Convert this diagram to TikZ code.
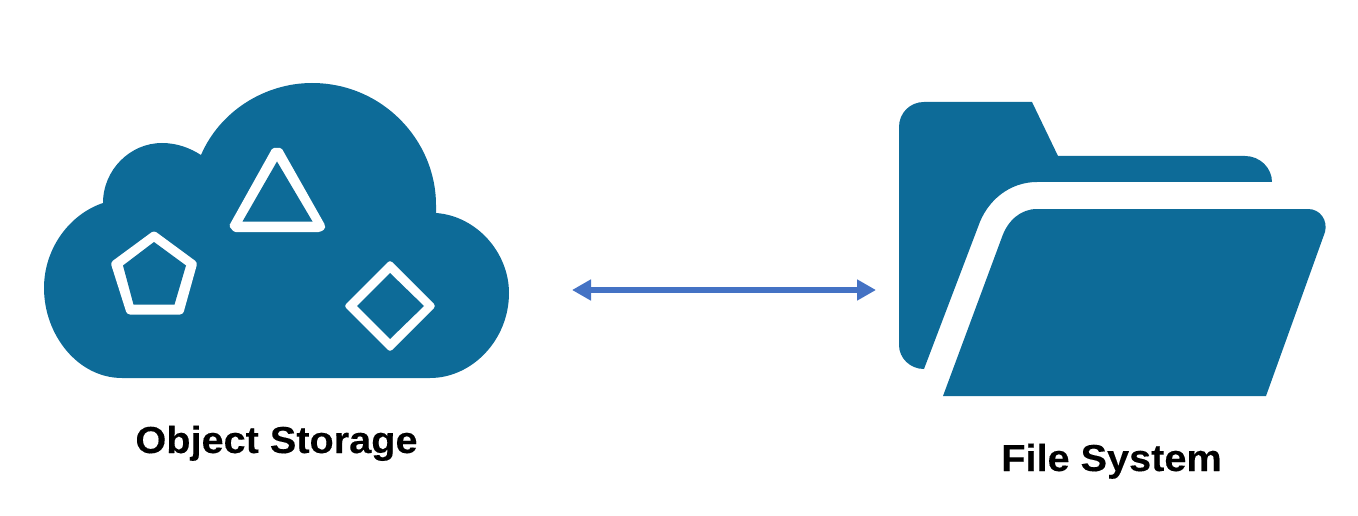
\documentclass[tikz,border=0pt]{standalone}
\usepackage{fontspec}
\setmainfont{Liberation Sans}[FakeStretch=1.055,BoldFeatures={FakeBold=0.25}]
\usetikzlibrary{arrows.meta}
\definecolor{iconblue}{HTML}{0D6B98}
\definecolor{arrowblue}{HTML}{4472C4}
\tikzset{
  icon/.style={fill=iconblue,draw=none},
  glyphouter/.style={fill=white,draw=none,rounded corners=3pt},
  glyphinner/.style={fill=iconblue,draw=none},
  caption/.style={font=\fontsize{37.6}{44}\selectfont\bfseries,text=black,inner sep=0pt,anchor=base},
  link/.style={draw=arrowblue,line width=5.6pt,{Triangle[length=19pt,width=20pt]}-{Triangle[length=19pt,width=20pt]}}
}
\begin{document}
\begin{tikzpicture}[x=1pt,y=-1pt]
\useasboundingbox (0,0) rectangle (1358,516);
% cloud
\fill[icon] (122,378) .. controls (78,378) and (44,335) .. (44,288)
  .. controls (44,248) and (70,214) .. (103,203)
  .. controls (103,170) and (130,143) .. (162,143)
  .. controls (177,143) and (190,148) .. (201,155)
  .. controls (220,111) and (265,83) .. (312,83)
  .. controls (382,83) and (436,140) .. (436,205)
  -- (436,213)
  .. controls (477,216) and (509,253) .. (509,293)
  .. controls (509,340) and (472,378) .. (430,378)
  -- cycle;
% triangle
\fill[glyphouter,rounded corners=1.5pt] (272.5,148) -- (281.5,148) -- (325,225) -- (325,229) -- (320,232) -- (234,232) -- (229,226) -- cycle;
\fill[glyphinner] (277,161.5) -- (312.5,221.5) -- (242.5,221.5) -- cycle;
% pentagon
\fill[glyphouter] (154,230.5) -- (197.5,262.5) -- (183,314.5) -- (127,314.5) -- (110.5,262.5) -- cycle;
\fill[glyphinner] (154,242) -- (186,265.5) -- (174.5,304.5) -- (133.5,304.5) -- (123,265.5) -- cycle;
% diamond
\fill[glyphouter] (390,260) -- (436,306) -- (390,352) -- (344,306) -- cycle;
\fill[glyphinner] (390,273) -- (424,306) -- (390,339) -- (357,306) -- cycle;
% folder
\fill[icon] (899,127) .. controls (899,113) and (910,102) .. (924,102)
  -- (1032,102) -- (1058,156) -- (1245,156)
  .. controls (1260,156) and (1272,168) .. (1272,182)
  -- (1037,182)
  .. controls (1010,182) and (987,200) .. (978,227)
  -- (924,369)
  .. controls (910,369) and (899,358) .. (899,345)
  -- cycle;
\fill[icon] (943,396) -- (1266,396) -- (1325,232)
  .. controls (1328,220) and (1320,209) .. (1308,209)
  -- (1037,209)
  .. controls (1021,209) and (1008,220) .. (1002,237)
  -- cycle;
% connector
\coordinate (objEnd) at (572,290);
\coordinate (fileEnd) at (876,290);
\draw[link] (objEnd) -- (fileEnd);
% labels
\node[caption] (objlabel) at (276.5,453) {Object Storage};
\node[caption] (fslabel) at (1111.5,471) {File System};
\end{tikzpicture}
\end{document}
